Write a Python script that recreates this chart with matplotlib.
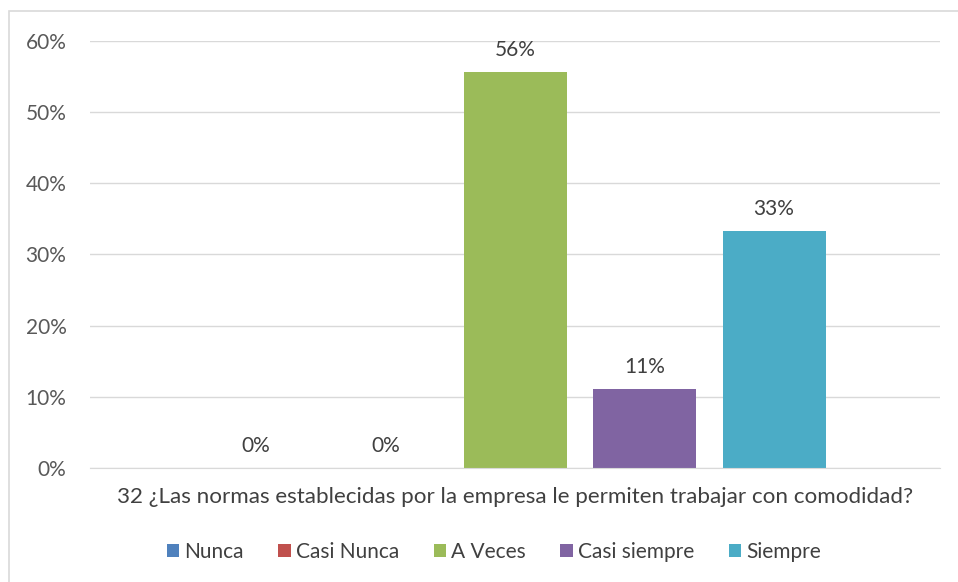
import matplotlib
matplotlib.use("Agg")
import matplotlib.pyplot as plt
from matplotlib.patches import Rectangle
from matplotlib.ticker import PercentFormatter

plt.rcParams['font.family'] = ['Lato', 'DejaVu Sans']

category = "32 ¿Las normas establecidas por la empresa le permiten trabajar con comodidad?"
series = ["Nunca", "Casi Nunca", "A Veces", "Casi siempre", "Siempre"]
values = [0.0, 0.0, 0.556, 0.111, 0.333]
labels = ["0%", "0%", "56%", "11%", "33%"]
colors = ["#4F81BD", "#C0504D", "#9BBB59", "#8064A2", "#4BACC6"]
yticks = [0, 0.1, 0.2, 0.3, 0.4, 0.5, 0.6]

W, H = 958, 582
fig = plt.figure(figsize=(W/100, H/100), dpi=100)
ax = fig.add_axes([90/W, (H-468)/H, 850/W, 427/H])

# outer chart frame
fig.patches.append(Rectangle((9/W, -0.1), 1.2, (H-11)/H + 0.1, transform=fig.transFigure,
                             fill=False, edgecolor="#D9D9D9", linewidth=1.2))

step = 129.5/850
width = 103/850
n = len(series)
for i, (s, v, lab, c) in enumerate(zip(series, values, labels, colors)):
    x = (i - (n-1)/2) * step
    ax.bar(x, v, width=width, color=c, label=s, zorder=3)
    ax.text(x, v + 0.017, lab, ha="center", va="bottom", fontsize=15, color="#404040")

ax.set_xlim(-0.5, 0.5)
ax.set_ylim(0, 0.6)
ax.set_yticks(yticks)
ax.yaxis.set_major_formatter(PercentFormatter(1.0, decimals=0))
ax.set_xticks([0])
ax.set_xticklabels([category])
ax.tick_params(axis="x", length=0, pad=14, labelsize=16.1, labelcolor="#404040")
ax.tick_params(axis="y", length=0, pad=17, labelsize=15, labelcolor="#595959")
ax.grid(axis="y", color="#D9D9D9", linewidth=1.0, zorder=0)
for sp in ["top", "right", "left"]:
    ax.spines[sp].set_visible(False)
ax.spines["bottom"].set_color("#D9D9D9")
ax.spines["bottom"].set_zorder(4)

fig.legend(loc="center", bbox_to_anchor=(494/W, (H-552)/H), ncol=5, frameon=False,
           fontsize=15, labelcolor="#404040", handlelength=0.6, handleheight=0.6,
           handletextpad=0.25, columnspacing=1.65)

fig.savefig("out.png", dpi=100)
